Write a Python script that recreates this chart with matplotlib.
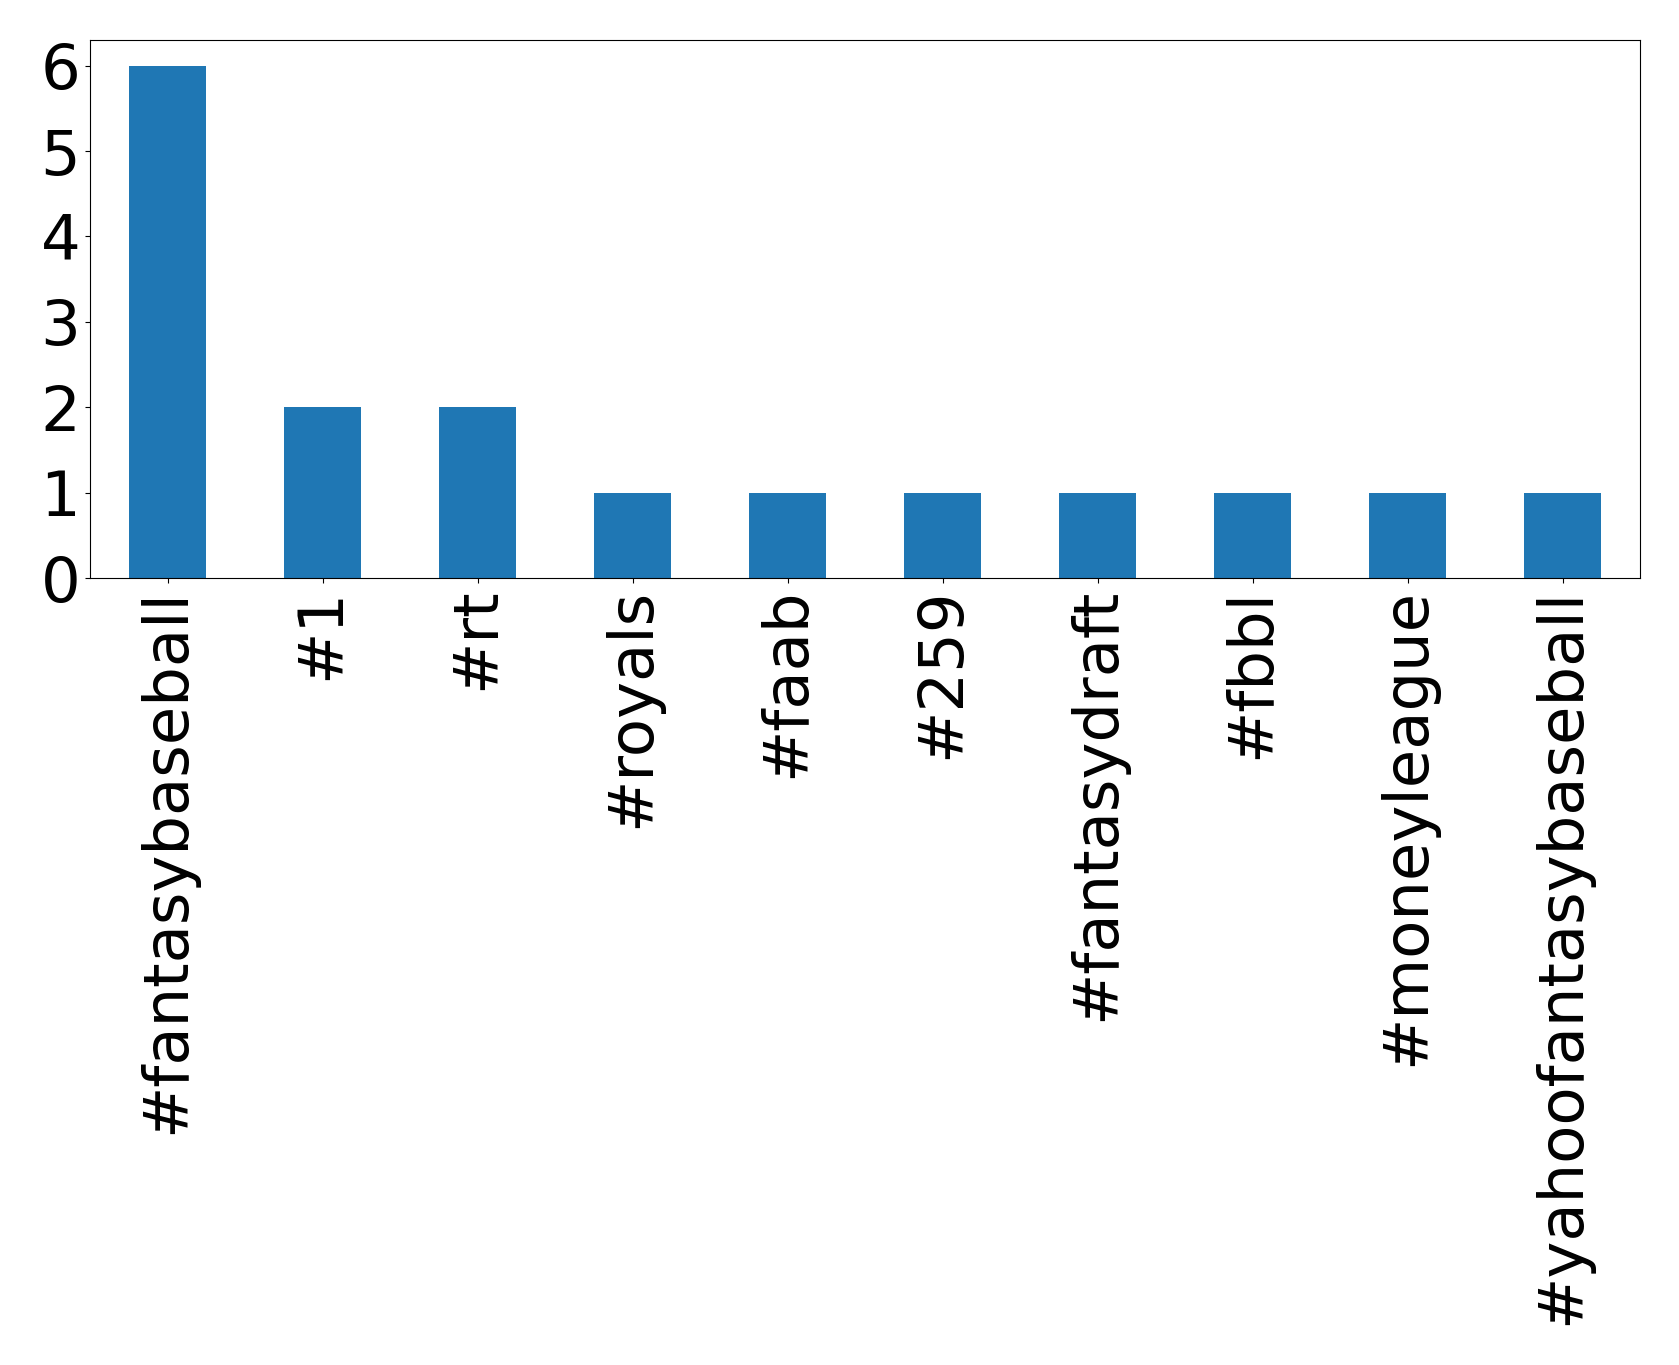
import matplotlib
matplotlib.use("Agg")
import matplotlib.pyplot as plt

tags = ["#fantasybaseball", "#1", "#rt", "#royals", "#faab", "#259",
        "#fantasydraft", "#fbbl", "#moneyleague", "#yahoofantasybaseball"]
counts = [6, 2, 2, 1, 1, 1, 1, 1, 1, 1]

fig = plt.figure(figsize=(16.79, 13.65), dpi=100)
ax = fig.add_axes([90/1679, 1-578/1365, (1640-90)/1679, (578-40)/1365])
x = list(range(len(tags)))
ax.bar(x, counts, width=0.5, color="#1f77b4")
ax.set_xlim(-0.5, len(tags) - 0.5)
ax.set_ylim(0, 6.3)
ax.set_xticks(x)
ax.set_xticklabels(tags, rotation=90, fontsize=45)
ax.set_yticks(range(0, 7))
ax.tick_params(axis="y", labelsize=45)
fig.savefig("out.png", dpi=100)
